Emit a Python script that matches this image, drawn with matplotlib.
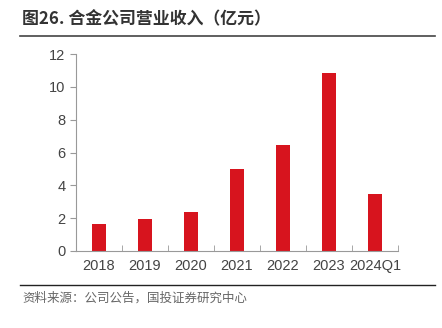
import matplotlib.pyplot as plt
from matplotlib.lines import Line2D

plt.rcParams['font.family'] = ['Noto Sans CJK SC', 'DejaVu Sans']

years = ['2018', '2019', '2020', '2021', '2022', '2023', '2024Q1']
revenue = [1.63, 1.93, 2.38, 4.97, 6.43, 10.87, 3.46]

fig = plt.figure(figsize=(4.42, 3.28), dpi=100)
ax = fig.add_axes([0.172, 0.235, 0.728, 0.6])

ax.bar(range(len(years)), revenue, width=0.3, color='#D7141E')
ax.set_xlim(-0.5, len(years) - 0.5)
ax.set_ylim(0, 12)
ax.set_yticks(range(0, 13, 2))
ax.set_xticks(range(len(years)))
ax.set_xticklabels(years, fontfamily='Liberation Sans', fontsize=10.5, color='#444444')
ax.tick_params(axis='y', labelsize=10.5, labelcolor='#444444', color='#999999', length=4)
for lab in ax.get_yticklabels():
    lab.set_fontfamily('Liberation Sans')
ax.set_xticks([i + 0.5 for i in range(len(years))], minor=True)
ax.tick_params(axis='x', which='major', length=0, pad=6)
ax.tick_params(axis='x', which='minor', length=4, color='#999999', direction='in')
for s in ['top', 'right']:
    ax.spines[s].set_visible(False)
ax.spines['left'].set_color('#999999')
ax.spines['bottom'].set_color('#999999')

fig.text(0.05, 0.925, '图26. 合金公司营业收入（亿元）', fontsize=12.2, fontweight='bold', color='#333333')
fig.add_artist(Line2D([0.045, 0.985], [0.89, 0.89], color='#444444', lw=1.2))
fig.add_artist(Line2D([0.045, 0.985], [0.131, 0.131], color='#222222', lw=1.0))
fig.text(0.05, 0.08, '资料来源：公司公告，国投证券研究中心', fontsize=9, color='#666666', style='italic')

fig.savefig('out.png', dpi=100)
